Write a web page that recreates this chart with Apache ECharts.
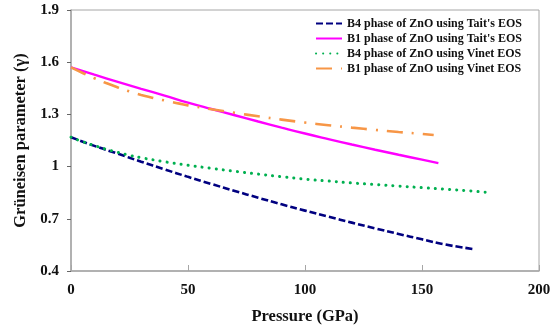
<!DOCTYPE html>
<html>
<head>
<meta charset="utf-8">
<script src="https://cdn.jsdelivr.net/npm/echarts@6/dist/echarts.min.js"></script>
<style>html,body{margin:0;padding:0;background:#fff;}#c{width:558px;height:331px;}</style>
</head>
<body>
<div id="c"></div>
<script>
const seriesNames = [
  "B4 phase of ZnO using Tait's EOS",
  "B1 phase of ZnO using Tait's EOS",
  "B4 phase of ZnO using Vinet EOS",
  "B1 phase of ZnO using Vinet EOS"
];
const xTicks = [0, 50, 100, 150, 200];
const yTicks = [0.4, 0.7, 1, 1.3, 1.6, 1.9];

const pB4Tait = [0, 10, 20, 30, 40, 50, 60, 70, 80, 90, 100, 110, 120, 130, 140, 150, 160, 172];
const gB4Tait = [1.169, 1.119, 1.074, 1.028, 0.984, 0.941, 0.900, 0.860, 0.821, 0.783, 0.747, 0.712, 0.678, 0.645, 0.613, 0.582, 0.552, 0.526];

const pB1Tait = [0, 10, 20, 30, 40, 50, 60, 70, 80, 90, 100, 110, 120, 130, 140, 150, 157];
const gB1Tait = [1.570, 1.528, 1.487, 1.447, 1.408, 1.368, 1.331, 1.295, 1.259, 1.224, 1.190, 1.158, 1.127, 1.097, 1.068, 1.040, 1.020];

const pB4Vinet = [0, 5, 10, 15, 20, 25, 30, 40, 50, 60, 70, 80, 90, 100, 110, 120, 130, 140, 150, 160, 170, 177];
const gB4Vinet = [1.169, 1.143, 1.121, 1.100, 1.082, 1.065, 1.051, 1.028, 1.008, 0.990, 0.973, 0.957, 0.942, 0.928, 0.917, 0.906, 0.897, 0.888, 0.879, 0.870, 0.861, 0.853];

const pB1Vinet = [0, 5, 10, 15, 20, 25, 30, 40, 50, 60, 70, 80, 90, 100, 110, 120, 130, 140, 150, 155];
const gB1Vinet = [1.570, 1.538, 1.508, 1.480, 1.455, 1.432, 1.412, 1.380, 1.352, 1.330, 1.309, 1.289, 1.270, 1.253, 1.238, 1.224, 1.211, 1.199, 1.188, 1.182];

const pair = (xs, ys) => xs.map((x, i) => [x, ys[i]]);
const FONT = "'Liberation Serif', 'Times New Roman', serif";

const chart = echarts.init(document.getElementById('c'), null, {renderer: 'canvas'});
chart.setOption({
  animation: false,
  backgroundColor: '#fff',
  grid: {left: 71, right: 19, top: 10, bottom: 60, show: true, borderColor: '#a6a6a6', borderWidth: 1},
  legend: {
    orient: 'vertical', left: 310, top: 11,
    itemWidth: 26, itemHeight: 8, itemGap: 0,
    itemStyle: {opacity: 0, borderWidth: 0},
    textStyle: {fontFamily: FONT, fontWeight: 'bold', fontSize: 12, color: '#111', lineHeight: 15},
    data: seriesNames
  },
  xAxis: {
    type: 'value', min: xTicks[0], max: xTicks[xTicks.length - 1], interval: 50,
    name: 'Pressure (GPa)', nameLocation: 'middle', nameGap: 37,
    nameTextStyle: {fontFamily: FONT, fontWeight: 'bold', fontSize: 16.5, color: '#111'},
    axisLine: {lineStyle: {color: '#a6a6a6', width: 1.5}},
    axisTick: {inside: true, length: 6, lineStyle: {color: '#a6a6a6'}},
    axisLabel: {fontFamily: FONT, fontWeight: 'bold', fontSize: 15, color: '#111', margin: 12},
    splitLine: {show: false}
  },
  yAxis: {
    type: 'value', min: yTicks[0], max: yTicks[yTicks.length - 1], interval: 0.3,
    name: 'Grüneisen parameter (γ)', nameLocation: 'middle', nameGap: 38,
    nameTextStyle: {fontFamily: FONT, fontWeight: 'bold', fontSize: 16.5, color: '#111'},
    axisLine: {show: true, lineStyle: {color: '#a6a6a6', width: 1.5}},
    axisTick: {show: true, length: 4, lineStyle: {color: '#666'}},
    axisLabel: {fontFamily: FONT, fontWeight: 'bold', fontSize: 15, color: '#111', margin: 12,
      formatter: v => String(Math.round(v * 10) / 10)},
    splitLine: {show: false}
  },
  series: [
    {name: seriesNames[0], type: 'line', smooth: true, showSymbol: false, symbol: 'none',
     data: pair(pB4Tait, gB4Tait), color: '#000080',
     lineStyle: {color: '#000080', width: 2.6, type: [7, 3]}},
    {name: seriesNames[1], type: 'line', smooth: true, showSymbol: false, symbol: 'none',
     data: pair(pB1Tait, gB1Tait), color: '#ff00ff',
     lineStyle: {color: '#ff00ff', width: 2.4}},
    {name: seriesNames[2], type: 'line', smooth: true, showSymbol: false, symbol: 'none',
     data: pair(pB4Vinet, gB4Vinet), color: '#00b050',
     lineStyle: {color: '#00b050', width: 3, type: [0.1, 7], cap: 'round'}},
    {name: seriesNames[3], type: 'line', smooth: true, showSymbol: false, symbol: 'none',
     data: pair(pB1Vinet, gB1Vinet), color: '#f79646',
     lineStyle: {color: '#f79646', width: 2.6, type: [16, 9, 2, 9]}}
  ]
});
</script>
</body>
</html>
